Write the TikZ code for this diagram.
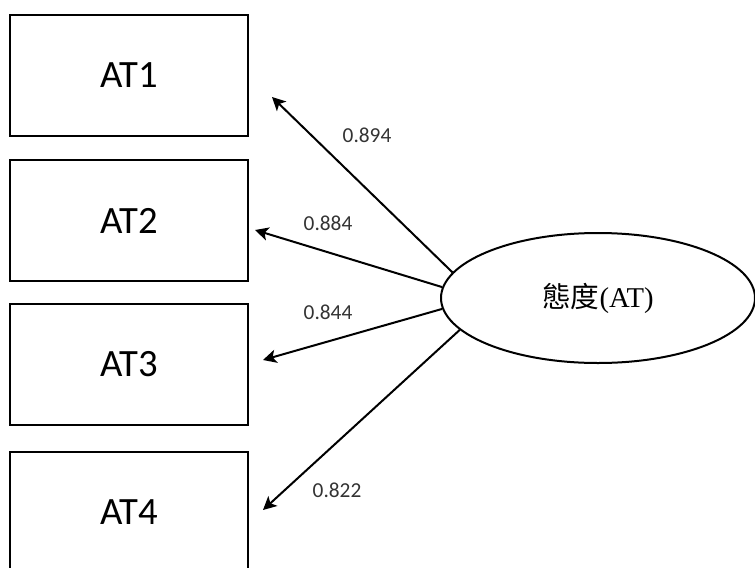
\documentclass[tikz,border=0pt]{standalone}
\usepackage{fontspec}
\setmainfont{Carlito}
\newfontfamily\cjkfont{Noto Sans CJK TC}
\newfontfamily\serfont{Liberation Serif}
\usetikzlibrary{
    shapes.geometric,
    arrows.meta,
    positioning
}
\tikzset{
    itembox/.style={draw, line width=1.8pt, minimum width=178.5pt, minimum height=90.75pt,
        inner sep=0pt, font=\fontsize{29}{29}\selectfont},
    latent/.style={ellipse, draw, line width=1.5pt, minimum width=235.5pt, minimum height=97.5pt,
        inner sep=0pt, font=\fontsize{21.5}{21.5}\selectfont},
    loading/.style={-{Stealth[length=10pt, width=10pt, inset=2.5pt]}, line width=1.5pt},
    weight/.style={font=\fontsize{16}{16}\selectfont, text=black!80}
}

\begin{document}
\begin{tikzpicture}[x=0.75pt, y=-0.75pt]
    \useasboundingbox (0,0) rectangle (755,567);
    \clip (0,0) rectangle (755,567);

    % Indicators
    \node[itembox] (at1) at (129,75.5) {AT1};
    \node[itembox] (at2) at (129,220.5) {AT2};
    \node[itembox] (at3) at (129,364.5) {AT3};
    \node[itembox] (at4) at (129,512.5) {AT4};

    % Latent factor
    \node[latent] (att) at (598,298) {{\cjkfont 態度}{\serfont (AT)}};

    % Arrow tips
    \coordinate (t1) at (272,97);
    \coordinate (t2) at (255,230);
    \coordinate (t3) at (263,360);
    \coordinate (t4) at (263,510);

    % Loadings
    \draw[loading] (att.170) -- (t1);
    \draw[loading] (att.176) -- (t2);
    \draw[loading] (att.184) -- (t3);
    \draw[loading] (att.193) -- (t4);

    % Weights
    \node[weight] (w1) at (367,135) {0.894};
    \node[weight] (w2) at (328,223) {0.884};
    \node[weight] (w3) at (328,312) {0.844};
    \node[weight] (w4) at (337,490) {0.822};
\end{tikzpicture}
\end{document}
